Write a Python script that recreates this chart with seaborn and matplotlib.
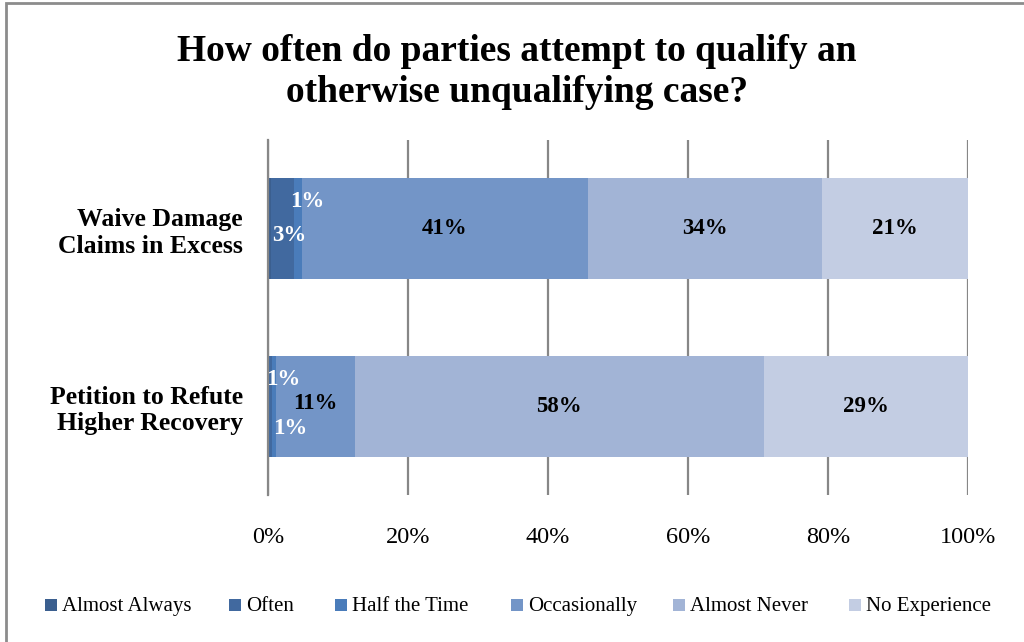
import numpy as np
import pandas as pd
import matplotlib.pyplot as plt
import seaborn as sns
from matplotlib.patches import Rectangle

# data (percent of respondents)
categorias = ["Waive Damage\nClaims in Excess", "Petition to Refute\nHigher Recovery"]
respostas = ["Almost Always", "Often", "Half the Time", "Occasionally", "Almost Never", "No Experience"]
almost_always = [0.4, 0.0]
often = [3.3, 0.6]
half_time = [1.1, 0.6]
occasionally = [40.9, 11.2]
almost_never = [33.5, 58.4]
no_experience = [20.8, 29.2]
rotulos = [["", "3%", "1%", "41%", "34%", "21%"],
           ["", "1%", "1%", "11%", "58%", "29%"]]

cores = ["#3B5F8F", "#41699F", "#4A7CBA", "#7395C7", "#A2B4D6", "#C3CDE3"]

sns.set_style("white")
plt.rcParams['font.family'] = ['Liberation Serif', 'DejaVu Serif']
plt.rcParams['text.color'] = 'black'
plt.rcParams['xtick.color'] = 'black'
plt.rcParams['ytick.color'] = 'black'

valores = np.array([almost_always, often, half_time, occasionally, almost_never, no_experience])
acumulado = valores.cumsum(axis=0)

W, H = 1024, 642
fig = plt.figure(figsize=(W / 100, H / 100), dpi=100)
ax = fig.add_axes([268/W, 1 - 495/H, 700/W, 355/H])

# empilhado: desenha do total maior pro menor, um sobre o outro
for i in range(len(respostas) - 1, -1, -1):
    df = pd.DataFrame({"categoria": categorias, "valor": acumulado[i]})
    sns.barplot(data=df, x="valor", y="categoria", color=cores[i], orient="h",
                width=0.57, saturation=1, linewidth=0, edgecolor="none", ax=ax, zorder=2)

# deslocamento dos rotulos pequenos (em pixels), como o Excel fez
desloc = {(0, 1): (7, -7), (0, 2): (9, 27), (1, 1): (13, 27), (1, 2): (16, -22), (1, 3): (0, 3)}
for c in range(len(categorias)):
    for i in range(len(respostas)):
        txt = rotulos[c][i]
        if not txt:
            continue
        centro = acumulado[i, c] - valores[i, c] / 2
        cor = "white" if valores[i, c] < 5 else "black"
        ax.annotate(txt, (centro, c), xytext=desloc.get((c, i), (0, 0)),
                    textcoords="offset pixels", ha="center", va="center",
                    fontsize=16.5, fontweight="bold", color=cor, zorder=5)

ax.set_xlim(0, 100)
ax.set_ylim(1.5, -0.5)
ax.set_xticks([0, 20, 40, 60, 80, 100])
ax.set_xticklabels([f"{t}%" for t in [0, 20, 40, 60, 80, 100]], fontsize=17.5)
ax.tick_params(axis="x", length=0, pad=23)
ax.tick_params(axis="y", length=0, pad=18)
for lbl in ax.get_yticklabels():
    lbl.set_fontsize(18.5)
    lbl.set_fontweight("bold")
    lbl.set_horizontalalignment("right")
ax.set_xlabel("")
ax.set_ylabel("")
ax.xaxis.grid(True, color="#878787", linewidth=1.6, zorder=0)
ax.set_axisbelow(True)
for s in ["top", "right", "bottom"]:
    ax.spines[s].set_visible(False)
ax.spines["left"].set_color("#878787")
ax.spines["left"].set_linewidth(1.6)
ax.spines["left"].set_zorder(6)

fig.text(0.505, 1 - 72/H, "How often do parties attempt to qualify an\notherwise unqualifying case?",
         ha="center", va="center", fontsize=27, fontweight="bold", linespacing=1.2)

# legenda feita a mao pra manter todos os textos na mesma linha de base
x_quadrado = [45, 229, 335, 511, 673, 849]
for i, nome in enumerate(respostas):
    x0 = x_quadrado[i]
    fig.patches.append(Rectangle((x0 / W, 1 - 611/H), 12 / W, 12 / H, transform=fig.transFigure,
                                 facecolor=cores[i], edgecolor="none"))
    fig.text((x0 + 17) / W, 1 - 611/H, nome, ha="left", va="baseline", fontsize=15)

# moldura cinza do grafico
fig.patches.append(Rectangle((6/W, -0.1), 1.2, 1 - 3/H + 0.1, transform=fig.transFigure,
                             fill=False, edgecolor="#8C8C8C", linewidth=2))

fig.savefig("out.png", dpi=100)
